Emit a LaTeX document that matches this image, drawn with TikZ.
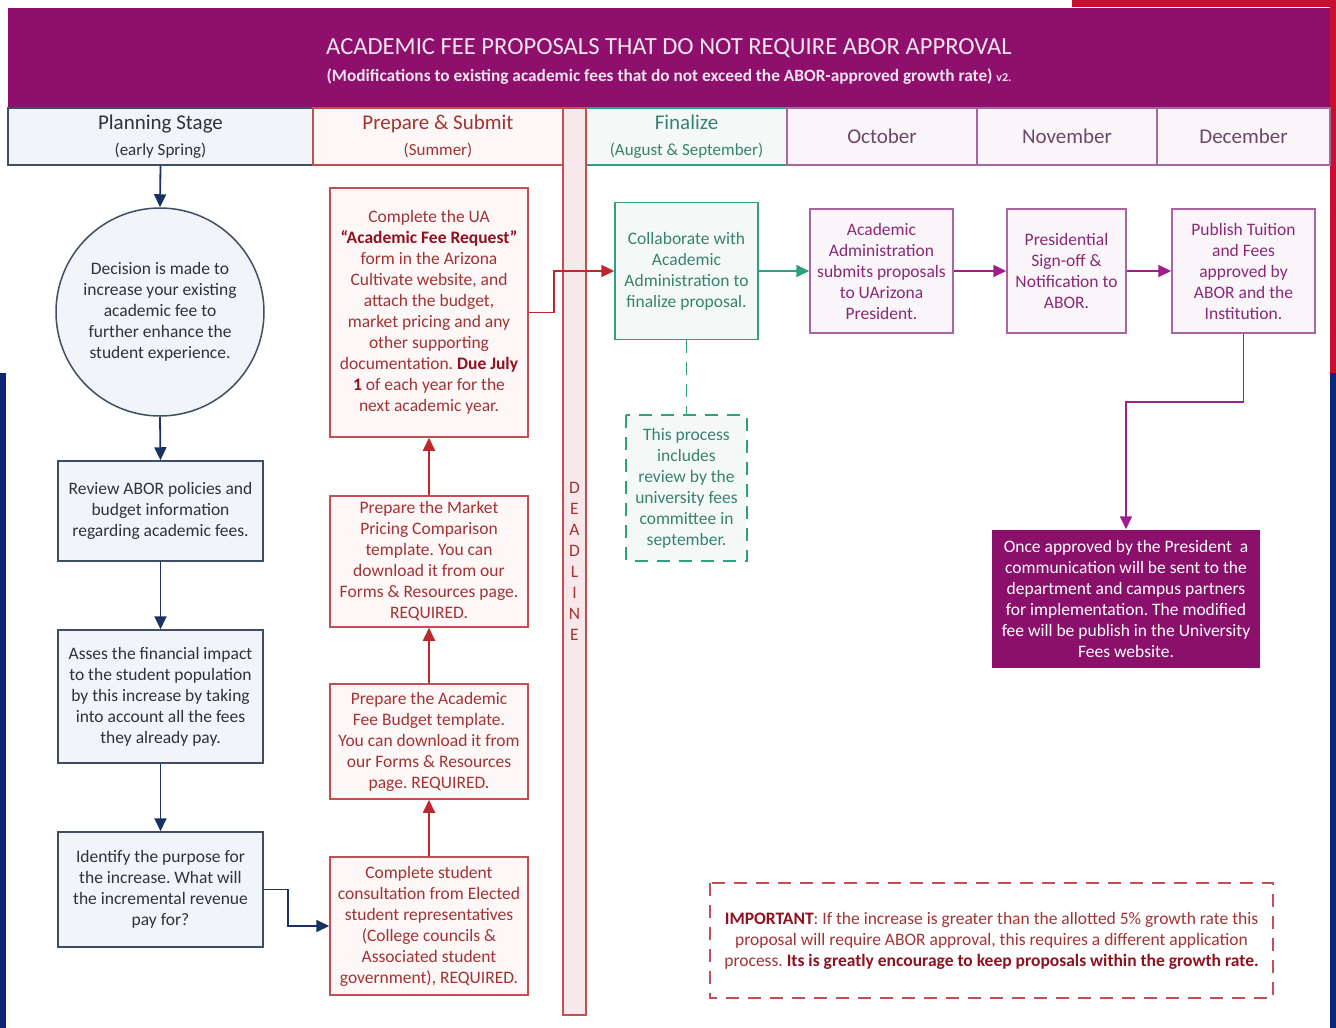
\documentclass[tikz,border=0pt]{standalone}
\usepackage{fontspec}
\setmainfont{Carlito}
\usetikzlibrary{
    arrows.meta,
    calc,
    positioning
}
\frenchspacing
\definecolor{headpurple}{RGB}{142,15,108}
\definecolor{headtext}{RGB}{240,228,238}
\definecolor{stripred}{RGB}{200,16,46}
\definecolor{stripblue}{RGB}{12,38,118}
\definecolor{planline}{RGB}{63,78,100}
\definecolor{planarrow}{RGB}{25,50,95}
\definecolor{planfill}{RGB}{241,244,248}
\definecolor{plantext}{RGB}{45,50,60}
\definecolor{subline}{RGB}{196,78,82}
\definecolor{subarrow}{RGB}{190,40,45}
\definecolor{subtext}{RGB}{165,50,50}
\definecolor{subbold}{RGB}{145,15,30}
\definecolor{subfill}{RGB}{253,247,247}
\definecolor{deadfill}{RGB}{247,233,235}
\definecolor{finline}{RGB}{45,160,130}
\definecolor{fintext}{RGB}{55,130,110}
\definecolor{finfill}{RGB}{244,249,248}
\definecolor{monline}{RGB}{170,100,160}
\definecolor{monarrow}{RGB}{160,30,140}
\definecolor{montext}{RGB}{140,40,120}
\definecolor{monhead}{RGB}{110,70,105}
\definecolor{monfill}{RGB}{249,245,249}
\definecolor{finalfill}{RGB}{139,16,107}
\newcommand{\redbold}[1]{\textbf{\color{subbold}#1}}
\tikzset{
    % Header cells
    head cell/.style={draw=#1, line width=1.5pt, align=center, inner sep=0pt},
    head font/.style={font=\fontsize{21}{26}\selectfont},
    %
    % Boxes
    any box/.style={line width=1.5pt, align=center, inner sep=2pt},
    plan box/.style={any box, draw=planline, fill=planfill, text=plantext},
    sub box/.style={any box, draw=subline, fill=subfill, text=subtext},
    fin box/.style={any box, draw=finline, fill=finfill, text=fintext},
    mon box/.style={any box, draw=monline, fill=monfill, text=montext},
    %
    % Arrows
    arrow tip/.tip={Triangle[length=13pt,width=12pt]},
    arr/.style={->,>={arrow tip}},
    plan arr/.style={arr, draw=planarrow, line width=1.8pt},
    sub arr/.style={arr, draw=subarrow, line width=1.8pt},
    fin arr/.style={arr, draw=finline, line width=1.8pt},
    mon arr/.style={arr, draw=monarrow, line width=1.8pt},
    note line/.style={line width=1.6pt, dash pattern=on 13pt off 9pt}
}
\tikzstyle{every node}=[font=\fontsize{17.5}{21}\selectfont]

\begin{document}
\begin{tikzpicture}[x=1pt,y=-1pt]
    \useasboundingbox (0,0) rectangle (1336,1028);
    % side strips
    \fill[stripred] (1072,0) rectangle (1336,7);
    \fill[stripred] (1330,0) rectangle (1336,373);
    \fill[stripblue] (1330,373) rectangle (1336,1028);
    \fill[stripblue] (0,373) rectangle (6,1028);

    % title band
    \fill[headpurple] (8,8) rectangle (1330,107);
    \node[text=headtext, align=center, font=\fontsize{24.6}{27}\selectfont] (title) at (669,61) {ACADEMIC FEE PROPOSALS THAT DO NOT REQUIRE ABOR APPROVAL\\{\fontsize{17.3}{17}\selectfont\bfseries (Modifications to existing academic fees that do not exceed the ABOR-approved growth rate) {\fontsize{12}{12}\selectfont v2.}}};

    % column heads
    \node[head cell=planline, fill=planfill, text=plantext, head font, minimum width=305, minimum height=57] (planhead) at (160.5,136.5) {Planning Stage\\{\fontsize{17}{20}\selectfont (early Spring)}};
    \node[head cell=subline, fill=subfill, text=subtext, head font, minimum width=250, minimum height=57] (subhead) at (438,136.5) {Prepare \& Submit\\{\fontsize{17}{20}\selectfont (Summer)}};
    \node[head cell=finline, fill=finfill, text=fintext, head font, minimum width=201, minimum height=57] (finhead) at (686.5,136.5) {Finalize\\{\fontsize{17}{20}\selectfont (August \& September)}};
    \node[head cell=monline, fill=monfill, text=monhead, head font, minimum width=190, minimum height=57] (octhead) at (882,136.5) {October};
    \node[head cell=monline, fill=monfill, text=monhead, head font, minimum width=180, minimum height=57] (novhead) at (1067,136.5) {November};
    \node[head cell=monline, fill=monfill, text=monhead, head font, minimum width=173, minimum height=57] (dechead) at (1243.5,136.5) {December};

    % deadline bar
    \node[head cell=subline, fill=deadfill, text=subtext, minimum width=23, minimum height=907] (deadline) at (574.5,561.5) {D\\E\\A\\D\\L\\I\\N\\E};

    % planning stage
    \node[plan box, circle, minimum size=208] (decision) at (160,312) {Decision is made to\\increase your existing\\academic fee to\\further enhance the\\student experience.};
    \node[plan box, minimum width=205, minimum height=100] (review) at (160.5,511) {Review ABOR policies and\\budget information\\regarding academic fees.};
    \node[plan box, minimum width=205, minimum height=133] (impact) at (160.5,696.5) {Asses the financial impact\\to the student population\\by this increase by taking\\into account all the fees\\they already pay.};
    \node[plan box, minimum width=205, minimum height=115] (purpose) at (160.5,889.5) {Identify the purpose for\\the increase. What will\\the incremental revenue\\pay for?};

    % prepare and submit
    \node[sub box, minimum width=198, minimum height=249] (request) at (429,312.5) {Complete the UA\\\redbold{“Academic Fee Request”}\\form in the Arizona\\Cultivate website, and\\attach the budget,\\market pricing and any\\other supporting\\documentation. \redbold{Due July}\\\redbold{1} of each year for the\\next academic year.};
    \node[sub box, minimum width=198, minimum height=131] (market) at (429,561.5) {Prepare the Market\\Pricing Comparison\\template. You can\\download it from our\\Forms \& Resources page.\\REQUIRED.};
    \node[sub box, minimum width=198, minimum height=115] (budget) at (429,741.5) {Prepare the Academic\\Fee Budget template.\\You can download it from\\our Forms \& Resources\\page. REQUIRED.};
    \node[sub box, minimum width=198, minimum height=138] (consult) at (429,926) {Complete student\\consultation from Elected\\student representatives\\(College councils \&\\Associated student\\government), REQUIRED.};

    % finalize
    \node[fin box, minimum width=143, minimum height=137] (collab) at (686.5,271) {Collaborate with\\Academic\\Administration to\\finalize proposal.};
    \node[fin box, draw=none, minimum width=119, minimum height=144] (process) at (686.5,488) {This process\\includes\\review by the\\university fees\\committee in\\september.};
    \draw[note line, finline] (process.north west) rectangle (process.south east);

    % months
    \node[mon box, minimum width=143, minimum height=124] (submits) at (881.5,271) {Academic\\Administration\\submits proposals\\to UArizona\\President.};
    \node[mon box, minimum width=119, minimum height=124] (signoff) at (1066.5,271) {Presidential\\Sign-off \&\\Notification to\\ABOR.};
    \node[mon box, minimum width=143, minimum height=124] (publish) at (1243.5,271) {Publish Tuition\\and Fees\\approved by\\ABOR and the\\Institution.};
    \node[any box, fill=finalfill, text=white, minimum width=268, minimum height=138] (notice) at (1126,599) {Once approved by the President\ \ a\\communication will be sent to the\\department and campus partners\\for implementation. The modified\\fee will be publish in the University\\Fees website.};

    % important note
    \node[text=subtext, align=center, minimum width=563, minimum height=115] (important) at (991.5,940.5) {\redbold{IMPORTANT}: If the increase is greater than the allotted 5\% growth rate this\\proposal will require ABOR approval, this requires a different application\\process. \redbold{Its is greatly encourage to keep proposals within the growth rate.}};
    \draw[note line, subline] (important.north west) rectangle (important.south east);

    % connectors
    \draw[plan arr] (planhead.south) -- (decision.north);
    \draw[plan arr] (decision.south) -- (review.north);
    \draw[plan arr] (review.south) -- (impact.north);
    \draw[plan arr] (impact.south) -- (purpose.north);
    \draw[plan arr] (purpose.east) -- ++(24,0) |- (consult.west);

    \draw[sub arr] (consult.north) -- (budget.south);
    \draw[sub arr] (budget.north) -- (market.south);
    \draw[sub arr] (market.north) -- (request.south);
    \draw[sub arr] (request.east) -- ++(25,0) |- (collab.west);

    \draw[note line, finline] (collab.south) -- (process.north);
    \draw[fin arr] (collab.east) -- (submits.west);

    \draw[mon arr] (submits.east) -- (signoff.west);
    \draw[mon arr] (signoff.east) -- (publish.west);
    \draw[mon arr] (publish.south) -- ++(0,68) -| (notice.north);
\end{tikzpicture}
\end{document}
